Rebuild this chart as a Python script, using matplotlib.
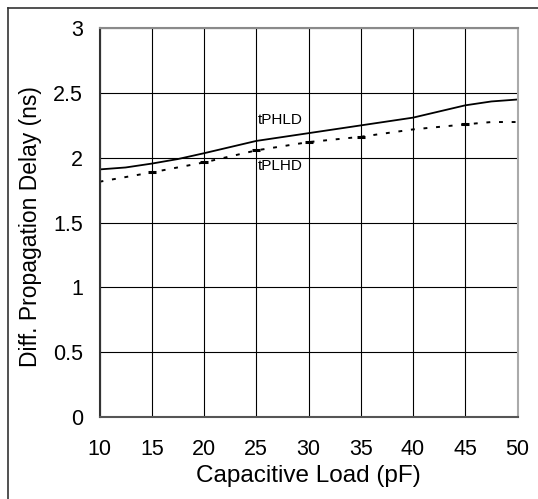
import matplotlib
matplotlib.use("Agg")
import matplotlib.pyplot as plt
from matplotlib.lines import Line2D

plt.rcParams['font.family'] = ['Liberation Sans', 'DejaVu Sans']

# capacitive load (pF) and differential propagation delay (ns)
load_phld = [10, 12.5, 15, 17.5, 20, 25, 30, 35, 40, 45, 47.5, 50]
tphld = [1.91, 1.925, 1.955, 1.99, 2.035, 2.13, 2.19, 2.25, 2.31, 2.405, 2.435, 2.45]

load_plhd = [10, 15, 20, 25, 30, 35, 40, 45, 47.5, 50]
tplhd = [1.815, 1.887, 1.964, 2.057, 2.121, 2.162, 2.219, 2.258, 2.276, 2.276]

x_ticks = [10, 15, 20, 25, 30, 35, 40, 45, 50]
y_ticks = [0, 0.5, 1, 1.5, 2, 2.5, 3]
y_ticklabels = ["0", "0.5", "1", "1.5", "2", "2.5", "3"]

W, H = 538, 499
fig = plt.figure(figsize=(W / 100, H / 100), dpi=100)
ax = fig.add_axes([99.5 / W, 1 - 416.7 / H, 418 / W, 388.4 / H])

ax.plot(load_phld, tphld, color="black", lw=1.3, solid_capstyle="butt")
ax.plot(load_plhd, tplhd, color="black", lw=1.4, linestyle=(0, (2, 4.5)))
# heavier dash where the dotted curve crosses the grid
ax.plot(load_plhd, tplhd, linestyle="none", marker="_", color="black",
        markersize=6, markeredgewidth=2.2, markevery=[1, 2, 3, 4, 5, 7])

ax.text(25.15, 2.29, "tPHLD", fontsize=11, va="center", ha="left")
ax.text(25.15, 1.934, "tPLHD", fontsize=11, va="center", ha="left")

ax.set_xlim(10, 50)
ax.set_ylim(0, 3)
ax.set_xticks(x_ticks)
ax.set_yticks(y_ticks)
ax.set_yticklabels(y_ticklabels)
ax.tick_params(length=0, labelsize=15.5)
ax.tick_params(axis="x", pad=16)
ax.tick_params(axis="y", pad=12)
ax.grid(True, color="black", lw=0.8)

ax.spines["left"].set_color("#333333")
ax.spines["bottom"].set_color("#555555")
ax.spines["top"].set_color("#8a8a8a")
ax.spines["right"].set_color("#aaaaaa")
for s in ax.spines.values():
    s.set_linewidth(1.5)

ax.set_xlabel("Capacitive Load (pF)", fontsize=17.5)
ax.set_ylabel("Diff. Propagation Delay (ns)", fontsize=16.5)
ax.xaxis.set_label_coords(0.5, -0.124)
ax.yaxis.set_label_coords(-0.138, 0.49)

# outer frame, cut by the image edge on the right and bottom
fig.add_artist(Line2D([7.5 / W, 7.5 / W], [0, 1 - 7.5 / H], color="#333333", lw=1.2))
fig.add_artist(Line2D([7.5 / W, 1], [1 - 7.5 / H, 1 - 7.5 / H], color="#333333", lw=1.2))

fig.savefig("out.png", dpi=100)
